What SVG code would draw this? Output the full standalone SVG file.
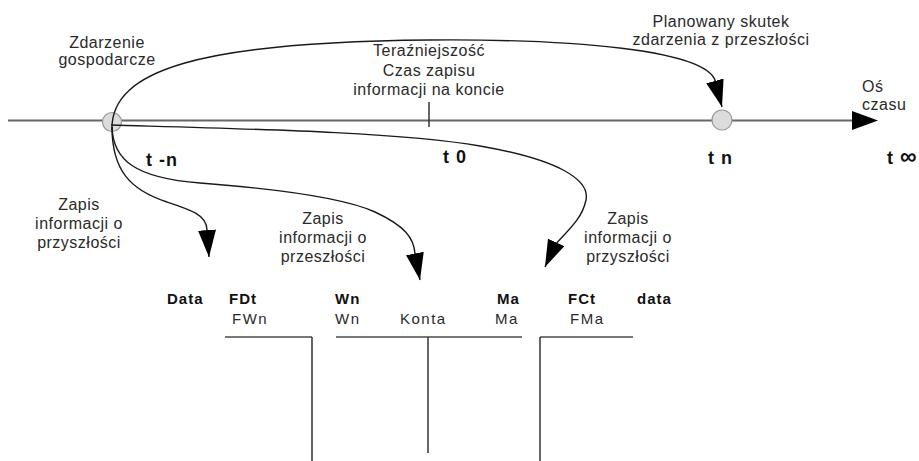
<svg xmlns="http://www.w3.org/2000/svg" width="919" height="461" viewBox="0 0 919 461">
<defs>
<style>
text{font-family:"Liberation Sans",Arial,sans-serif;fill:#2a2a2a;}
.lbl{font-size:16px;letter-spacing:0.5px;text-anchor:middle;}
.t{font-size:18px;font-weight:bold;letter-spacing:1px;fill:#111;}
.h1{font-size:15px;font-weight:bold;letter-spacing:1px;fill:#111;}
.h2{font-size:15px;letter-spacing:1.5px;}
.curve{fill:none;stroke:#1a1a1a;stroke-width:1.4;marker-end:url(#arr);}
.axis{stroke:#666;stroke-width:2.2;fill:none;}
.tline{stroke:#777;stroke-width:2.2;fill:none;}
.vline{stroke:#333;stroke-width:1.5;fill:none;}
.pt{fill:#dcdcdc;stroke:#999;stroke-width:1.2;}
</style>
<marker id="arr" markerUnits="userSpaceOnUse" markerWidth="30" markerHeight="20" refX="27" refY="9" orient="auto">
<path d="M0,0 L27,9 L0,18 Z" fill="#000"/>
</marker>
</defs>
<rect width="919" height="461" fill="#fff"/>

<g id="axis">
<line class="axis" x1="8" y1="120.5" x2="854" y2="120.5"/>
<polygon points="852,111 878,120.5 852,130" fill="#000"/>
<line class="vline" x1="429" y1="102" x2="429" y2="127"/>
</g>

<g id="event-past">
<circle class="pt" cx="112" cy="122" r="9.5"/>
</g>
<g id="event-future">
<circle class="pt" cx="722" cy="120" r="10"/>
</g>

<g id="connectors">
<path class="curve" d="M112,130 C110,70 200,42 430,40 C560,39 716,48 716,85 L722,107"/>
<path class="curve" d="M112,127 C112,170 130,190 167,202 C190,209.5 207,215 207,230 L209,257"/>
<path class="curve" d="M112,127 C113,160 135,178 200,183 C260,187.6 340,196 375,212 C405,226 414,238 415,254 L420,280"/>
<path class="curve" d="M111,125 C250,129 400,132 480,146 C560,160 590,180 586,200 C582,220 565,233 555,245 L545,267"/>
</g>

<g id="labels-top">
<text class="lbl" x="107" y="48">Zdarzenie</text>
<text class="lbl" x="107" y="65">gospodarcze</text>
<text class="lbl" x="429" y="56">Teraźniejszość</text>
<text class="lbl" x="429" y="76">Czas zapisu</text>
<text class="lbl" x="429" y="95">informacji na koncie</text>
<text class="lbl" x="721" y="27">Planowany skutek</text>
<text class="lbl" x="721" y="45">zdarzenia z przeszłości</text>
<text class="lbl" x="862" y="92" style="text-anchor:start">Oś</text>
<text class="lbl" x="862" y="110" style="text-anchor:start">czasu</text>
</g>

<g id="time-marks">
<text class="t" x="146" y="166">t -n</text>
<text class="t" x="443" y="163">t 0</text>
<text class="t" x="708" y="164">t n</text>
<text class="t" x="887" y="164">t <tspan style="font-size:23px;letter-spacing:0">∞</tspan></text>
</g>

<g id="note-left">
<text class="lbl" x="79" y="210">Zapis</text>
<text class="lbl" x="79" y="229">informacji o</text>
<text class="lbl" x="79" y="248">przyszłości</text>
</g>
<g id="note-middle">
<text class="lbl" x="323" y="224">Zapis</text>
<text class="lbl" x="323" y="243">informacji o</text>
<text class="lbl" x="323" y="262">przeszłości</text>
</g>
<g id="note-right">
<text class="lbl" x="628" y="224">Zapis</text>
<text class="lbl" x="628" y="243">informacji o</text>
<text class="lbl" x="628" y="262">przyszłości</text>
</g>

<g id="account-left">
<text class="h1" x="167" y="304">Data</text>
<text class="h1" x="229" y="304">FDt</text>
<text class="h2" x="232" y="324">FWn</text>
<line class="tline" x1="225" y1="337" x2="312" y2="337"/>
<line class="vline" x1="312" y1="337" x2="312" y2="461"/>
</g>
<g id="account-center">
<text class="h1" x="335" y="304">Wn</text>
<text class="h1" x="497" y="304">Ma</text>
<text class="h2" x="335" y="324">Wn</text>
<text class="h2" x="400" y="324">Konta</text>
<text class="h2" x="495" y="324">Ma</text>
<line class="tline" x1="336" y1="337" x2="522" y2="337"/>
<line class="vline" x1="428" y1="337" x2="428" y2="453"/>
</g>
<g id="account-right">
<text class="h1" x="568" y="304">FCt</text>
<text class="h1" x="637" y="304">data</text>
<text class="h2" x="570" y="324">FMa</text>
<line class="tline" x1="540" y1="337" x2="633" y2="337"/>
<line class="vline" x1="540" y1="337" x2="540" y2="461"/>
</g>
</svg>
